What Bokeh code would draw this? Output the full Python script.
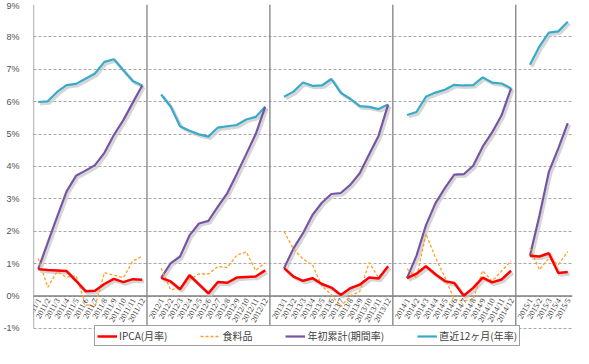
import numpy as np
from bokeh.plotting import figure
from bokeh.models import (ColumnDataSource, Range1d, FixedTicker, LabelSet,
                          Legend, LegendItem, PrintfTickFormatter)
from bokeh.embed import file_html
from bokeh.resources import INLINE

# ---------------- data ----------------
years = ["2011", "2012", "2013", "2014", "2015"]
months_per_year = [12, 12, 12, 12, 5]

ipca = [  # IPCA monthly (%)
    [0.83, 0.80, 0.79, 0.77, 0.47, 0.15, 0.16, 0.37, 0.53, 0.43, 0.52, 0.50],
    [0.56, 0.45, 0.21, 0.64, 0.36, 0.08, 0.43, 0.41, 0.57, 0.59, 0.60, 0.79],
    [0.86, 0.60, 0.47, 0.55, 0.37, 0.26, 0.03, 0.24, 0.35, 0.57, 0.54, 0.92],
    [0.55, 0.69, 0.92, 0.67, 0.46, 0.40, 0.01, 0.25, 0.57, 0.42, 0.51, 0.78],
    [1.24, 1.22, 1.32, 0.71, 0.74],
]
food = [  # 食料品 monthly (%)
    [1.16, 0.27, 0.75, 0.58, 0.63, -0.26, -0.34, 0.72, 0.64, 0.56, 1.08, 1.23],
    [0.86, 0.19, 0.25, 0.51, 0.68, 0.68, 0.91, 0.88, 1.26, 1.36, 0.79, 1.03],
    [1.99, 1.45, 1.14, 0.96, 0.31, 0.04, -0.33, 0.01, 0.14, 1.03, 0.56, 0.91],
    [0.84, 0.56, 1.92, 1.19, 0.58, -0.11, -0.15, -0.10, 0.78, 0.46, 0.77, 1.08],
    [1.48, 0.81, 1.17, 0.97, 1.37],
]
ytd = [  # 年初累計 (%)
    [0.83, 1.64, 2.44, 3.23, 3.71, 3.87, 4.04, 4.42, 4.97, 5.43, 5.97, 6.50],
    [0.56, 1.01, 1.22, 1.87, 2.24, 2.32, 2.76, 3.18, 3.77, 4.38, 5.00, 5.84],
    [0.86, 1.47, 1.94, 2.50, 2.88, 3.15, 3.18, 3.43, 3.79, 4.38, 4.95, 5.91],
    [0.55, 1.24, 2.18, 2.86, 3.33, 3.75, 3.76, 4.02, 4.61, 5.05, 5.58, 6.41],
    [1.24, 2.48, 3.83, 4.56, 5.34],
]
m12 = [  # 直近12ヶ月 (%)
    [5.99, 6.01, 6.30, 6.51, 6.55, 6.71, 6.87, 7.23, 7.31, 6.97, 6.64, 6.50],
    [6.22, 5.85, 5.24, 5.10, 4.99, 4.92, 5.20, 5.24, 5.28, 5.45, 5.53, 5.84],
    [6.15, 6.31, 6.59, 6.49, 6.50, 6.70, 6.27, 6.09, 5.86, 5.84, 5.77, 5.91],
    [5.59, 5.68, 6.15, 6.28, 6.37, 6.52, 6.50, 6.51, 6.75, 6.59, 6.56, 6.41],
    [7.14, 7.70, 8.13, 8.17, 8.47],
]
y_ticks = list(range(-1, 10))
legend_labels = ["IPCA(月率)", "食料品", "年初累計(期間率)", "直近12ヶ月(年率)"]

# ---------------- category slots (one empty slot between years) ----------
slot = 13
xs, labels = [], []
cols = {"ipca": [], "food": [], "ytd": [], "m12": []}
separators = []
for yi, (yr, n) in enumerate(zip(years, months_per_year)):
    for m in range(n):
        xs.append(float(yi * slot + m))
        labels.append(f"{yr}/{m + 1}")
        cols["ipca"].append(ipca[yi][m])
        cols["food"].append(food[yi][m])
        cols["ytd"].append(ytd[yi][m])
        cols["m12"].append(m12[yi][m])
    if yi < len(years) - 1:
        xs.append(float(yi * slot + n))
        labels.append("")
        for k in cols:
            cols[k].append(np.nan)
        separators.append(float(yi * slot + n) - 0.5)

data = {"x": np.array(xs)}
for k, v in cols.items():
    data[k] = np.array(v, dtype=float)
# soft drop-shadow copies (shifted ~2px right / down)
data["x_sh"] = data["x"] + 0.2
for k in ["ipca", "ytd", "m12"]:
    data[k + "_sh"] = data[k] - 0.06
src = ColumnDataSource(data)

lab_x = [x for x, l in zip(xs, labels) if l]
lab_t = [l for l in labels if l]
lab_src = ColumnDataSource(dict(x=lab_x, y=[0.0] * len(lab_x), t=lab_t))

FONT = "Noto Sans CJK JP"
AFONT = "Liberation Sans"
x_start, x_end = -0.5, len(xs) - 0.5
y_min_tick, y_top = min(y_ticks), max(y_ticks)

p = figure(width=573, height=348, output_backend="svg", toolbar_location=None,
           x_range=Range1d(x_start, x_end), y_range=Range1d(-1.59, y_top),
           x_axis_location=None,
           min_border_left=0, min_border_right=1, min_border_top=4,
           min_border_bottom=1)
p.outline_line_color = None

# y axis (line drawn separately so it stops at -1%)
p.yaxis.ticker = FixedTicker(ticks=y_ticks)
p.yaxis.formatter = PrintfTickFormatter(format="%d%%")
p.yaxis.major_tick_line_color = None
p.yaxis.minor_tick_line_color = None
p.yaxis.axis_line_color = None
p.yaxis.major_label_text_font = AFONT
p.yaxis.major_label_text_font_size = "9px"
p.yaxis.major_label_text_color = "#505050"
p.yaxis.major_label_standoff = 8

p.xgrid.visible = False
p.ygrid.ticker = FixedTicker(ticks=y_ticks)
p.ygrid.grid_line_color = "#A8A8A8"
p.ygrid.grid_line_dash = "3 2"

# frame lines: left axis, year separators, zero line
vx = [x_start] + separators
p.segment(x0=vx, y0=[y_min_tick] * len(vx), x1=vx, y1=[y_top] * len(vx),
          line_color="#808080", line_width=1.3)
p.segment(x0=[x_start], y0=[0], x1=[x_end], y1=[0], line_color="#808080",
          line_width=1.3)

# x labels (rotated)
p.add_layout(LabelSet(x="x", y="y", text="t", source=lab_src,
                      angle=np.pi / 3, text_align="right",
                      text_baseline="middle", x_offset=1, y_offset=-3,
                      text_font=AFONT, text_font_size="8px",
                      text_color="#404040"))

# shadows
for col, w in [("m12_sh", 3), ("ytd_sh", 3), ("ipca_sh", 3.5)]:
    p.line(x="x_sh", y=col, source=src, line_color="#C4C4C4", line_width=w,
           line_alpha=0.7)

# series
r_m12 = p.line("x", "m12", source=src, line_color="#37A9C9", line_width=2.2)
r_ytd = p.line("x", "ytd", source=src, line_color="#7555A3", line_width=2.2)
r_food = p.line("x", "food", source=src, line_color="#FFA026", line_width=1.3,
                line_dash="3 2")
r_ipca = p.line("x", "ipca", source=src, line_color="#FF0000", line_width=2.5)

legend = Legend(items=[LegendItem(label=legend_labels[0], renderers=[r_ipca]),
                       LegendItem(label=legend_labels[1], renderers=[r_food]),
                       LegendItem(label=legend_labels[2], renderers=[r_ytd]),
                       LegendItem(label=legend_labels[3], renderers=[r_m12])],
                orientation="horizontal", location=(61, 1),
                label_text_font=FONT, label_text_font_size="10px",
                label_text_color="#404040", glyph_width=20, glyph_height=14,
                label_height=14, label_standoff=2, spacing=33, padding=2,
                margin=0, border_line_color="#404040", border_line_width=1)
p.add_layout(legend)

open("out.html", "w").write(file_html(p, INLINE))
